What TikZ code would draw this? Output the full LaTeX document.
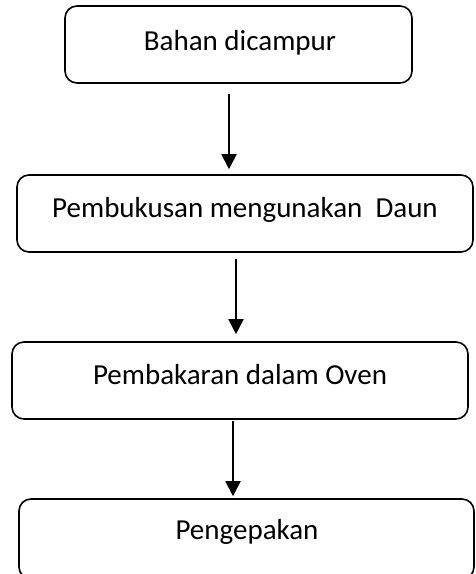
\documentclass[tikz,border=0pt]{standalone}
\usepackage{fontspec}
\setmainfont{Carlito}
\usetikzlibrary{arrows.meta}
\begin{document}
\begin{tikzpicture}[x=1pt,y=-1pt,
  boxnode/.style={draw=black, line width=1.6pt, rounded corners=12pt, inner sep=0pt},
  txt/.style={font=\fontsize{29}{34}\selectfont, inner sep=0pt},
  arr/.style={line width=2pt, -{Triangle[length=15pt,width=15pt]}}]
\useasboundingbox (0,0) rectangle (475,574);
\node[boxnode, minimum width=347pt, minimum height=77pt] (b1) at (238.5,44.5) {};
\node[boxnode, minimum width=456pt, minimum height=77pt] (b2) at (245,213.5) {};
\node[boxnode, minimum width=456pt, minimum height=77pt] (b3) at (240,380.5) {};
\node[boxnode, minimum width=455pt, minimum height=80pt] (b4) at (246.5,539) {};
\node[txt] (t1) at (240,43) {Bahan dicampur};
\node[txt] (t2) at (245,210) {Pembukusan mengunakan\ \ Daun};
\node[txt] (t3) at (240,375) {Pembakaran dalam Oven};
\node[txt] (t4) at (247,532) {Pengepakan};
\draw[arr] ([xshift=-9.5pt,yshift=-10pt]b1.south) -- ([xshift=-16pt,yshift=5pt]b2.north);
\draw[arr] ([xshift=-9pt,yshift=-6pt]b2.south) -- ([xshift=-4pt,yshift=7pt]b3.north);
\draw[arr] ([xshift=-7pt,yshift=-1pt]b3.south) -- ([xshift=-13.5pt,yshift=2pt]b4.north);
\end{tikzpicture}
\end{document}
